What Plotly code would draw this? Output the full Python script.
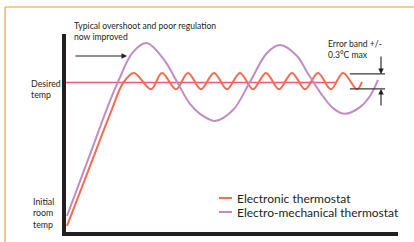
import plotly.graph_objects as go

# ---- data (time in minutes, temperature in °C) ----
desired_temp = 20.0
desired_t = [0.0, 81.3]

electronic_t = [0.30, 7.23, 13.86, 17.17, 20.48, 25.60, 28.92, 33.13, 36.75, 40.66,
                44.58, 48.49, 52.41, 56.33, 60.24, 64.16, 68.07, 71.99, 75.90, 79.82,
                83.43, 87.65, 89.16]
electronic_temp = [15.52, 17.39, 19.17, 19.98, 20.30, 19.79, 20.30, 19.79, 20.30, 19.79,
                   20.30, 19.79, 20.30, 19.79, 20.30, 19.79, 20.30, 19.79, 20.30, 19.79,
                   20.30, 19.79, 20.02]

mechanical_t = [0.30, 7.83, 12.65, 15.66, 20.18, 24.40, 29.82, 33.43, 37.35, 40.36, 44.88,
                50.30, 55.42, 60.54, 64.46, 69.58, 72.59, 76.51, 80.42, 84.04, 88.55,
                91.57, 93.98]
mechanical_temp = [15.83, 17.92, 19.27, 20.02, 20.95, 21.23, 20.67, 20.02, 19.33, 19.02, 18.80,
                   19.14, 20.02, 20.92, 21.17, 20.83, 20.33, 19.70, 19.20, 19.02, 19.23,
                   19.58, 20.08]

error_band_t = [85.5, 96.1]
error_band_temp = [19.80, 20.27]

legend_labels = ["Electronic thermostat", "Electro-mechanical thermostat"]

x_range = [0, 100]
y_range = [15.328, 21.516]

# ---- styles ----
INK = "#231f20"
PINK = "#ef5a70"
ORANGE = "#f26d50"
PURPLE = "#c08cc4"
FRAME = "#f6b96b"
FONT = "Lato"

fig = go.Figure()

fig.add_trace(go.Scatter(x=desired_t, y=[desired_temp] * len(desired_t), mode="lines",
                         line=dict(color=PINK, width=1.6), showlegend=False, hoverinfo="skip"))
fig.add_trace(go.Scatter(x=electronic_t, y=electronic_temp, mode="lines", name=legend_labels[0],
                         line=dict(color=ORANGE, width=2, shape="spline", smoothing=1.0),
                         showlegend=False))
fig.add_trace(go.Scatter(x=mechanical_t, y=mechanical_temp, mode="lines", name=legend_labels[1],
                         line=dict(color=PURPLE, width=2, shape="spline", smoothing=1.0),
                         showlegend=False))

# error band lines
for v in error_band_temp:
    fig.add_shape(type="line", xref="x", yref="y", x0=error_band_t[0], x1=error_band_t[1], y0=v, y1=v,
                  line=dict(color="#3a3a3a", width=1.2))

L, R, T, B = 66, 16, 34, 10
W, H = 414, 242
PW, PH = W - L - R, H - T - B


def px(xp):
    return (xp - L) / PW


def py(yp):
    return (H - B - yp) / PH


# frame (top and left light-orange rules)
fig.add_shape(type="line", xref="paper", yref="paper", x0=px(5), x1=px(420), y0=py(7), y1=py(7),
              line=dict(color=FRAME, width=1.6))
fig.add_shape(type="line", xref="paper", yref="paper", x0=px(5), x1=px(5), y0=py(7), y1=py(250),
              line=dict(color=FRAME, width=1.6))

ann_font = dict(family=FONT, size=8.6, color=INK)
lab_font = dict(family=FONT, size=8.8, color=INK)
fig.add_annotation(xref="paper", yref="paper", x=px(72), y=py(31.5), xanchor="left", yanchor="middle",
                   align="left", showarrow=False, text="Typical overshoot and poor regulation<br>now improved",
                   font=ann_font)
fig.add_annotation(xref="paper", yref="paper", x=px(29), y=py(89), xanchor="left", yanchor="middle",
                   align="left", showarrow=False, text="Desired<br>temp", font=lab_font)
fig.add_annotation(xref="paper", yref="paper", x=px(31), y=py(212.5), xanchor="left", yanchor="middle",
                   align="left", showarrow=False, text="Initial<br>room<br>temp", font=lab_font)
fig.add_annotation(xref="paper", yref="paper", x=px(326), y=py(49), xanchor="left", yanchor="middle",
                   align="left", showarrow=False, text="Error band +/-<br>0.3°C max", font=ann_font)

# arrows
fig.add_annotation(xref="paper", yref="paper", x=px(127), y=py(56), ax=-53, ay=0, text="",
                   showarrow=True, arrowhead=2, arrowsize=1, arrowwidth=1.1, arrowcolor=INK)
fig.add_annotation(xref="paper", yref="paper", x=px(381), y=py(74), ax=0, ay=-19, text="",
                   showarrow=True, arrowhead=2, arrowsize=1, arrowwidth=1.1, arrowcolor=INK)
fig.add_annotation(xref="paper", yref="paper", x=px(381), y=py(89), ax=0, ay=18, text="",
                   showarrow=True, arrowhead=2, arrowsize=1, arrowwidth=1.1, arrowcolor=INK)

# legend (compact, drawn with short swatches like the original)
for label, color, yc in zip(legend_labels, [ORANGE, PURPLE], [198, 212]):
    fig.add_shape(type="line", xref="paper", yref="paper", x0=px(219), x1=px(232), y0=py(yc), y1=py(yc),
                  line=dict(color=color, width=2))
    fig.add_annotation(xref="paper", yref="paper", x=px(235), y=py(yc), xanchor="left", yanchor="middle",
                       showarrow=False, text=label, font=dict(family=FONT, size=12, color=INK))

fig.update_layout(
    width=W, height=H,
    margin=dict(l=L, r=R, t=T, b=B, pad=0),
    paper_bgcolor="white", plot_bgcolor="white",
    font=dict(family=FONT, color=INK),
    showlegend=False,
    xaxis=dict(range=x_range, showgrid=False, zeroline=False, showticklabels=False, ticks="",
               showline=True, linecolor=INK, linewidth=3.5, fixedrange=True),
    yaxis=dict(range=y_range, showgrid=False, zeroline=False, showticklabels=False, ticks="",
               showline=True, linecolor=INK, linewidth=4, fixedrange=True),
)

fig.write_html("out.html", config={"displayModeBar": False},
               post_script="document.body.style.margin='0';")
